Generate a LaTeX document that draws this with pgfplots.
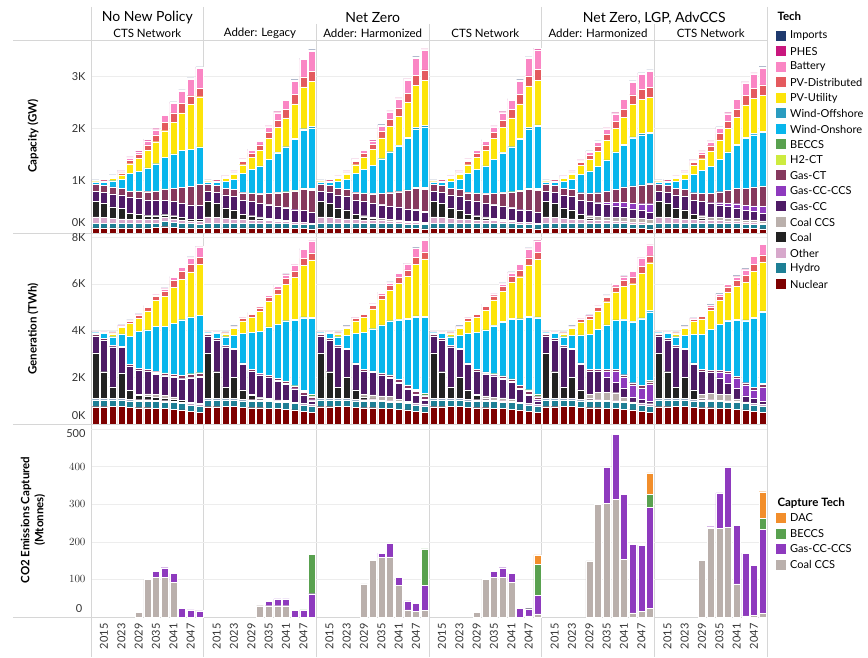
\documentclass[border=0pt]{standalone}
\usepackage{pgfplots}
\pgfplotsset{compat=1.18}
\usepackage{pgfplotstable}
\usepackage{fontspec}
\setmainfont{Lato}
\setsansfont{Lato}

\definecolor{cImp}{HTML}{1F3A6E}
\definecolor{cPHES}{HTML}{C9177E}
\definecolor{cBat}{HTML}{FA86C4}
\definecolor{cPVD}{HTML}{E45A5E}
\definecolor{cPVU}{HTML}{FDE40A}
\definecolor{cWOff}{HTML}{2A9CC0}
\definecolor{cWOn}{HTML}{08B6EC}
\definecolor{cBEC}{HTML}{59A14F}
\definecolor{cH2}{HTML}{CDEB3F}
\definecolor{cGCT}{HTML}{86395E}
\definecolor{cGCCS}{HTML}{8E3ABE}
\definecolor{cGCC}{HTML}{4E1B66}
\definecolor{cCCCS}{HTML}{BAB0AC}
\definecolor{cCoal}{HTML}{222222}
\definecolor{cOth}{HTML}{D7A8CB}
\definecolor{cHyd}{HTML}{1E7F95}
\definecolor{cNuc}{HTML}{7E0000}
\definecolor{cDAC}{HTML}{F28E2B}
\definecolor{sep}{HTML}{D6D6D6}

% columns: x Nuc Hyd Oth Coal CCCS GCC GCCS GCT H2 BEC WOn WOff PVU PVD Bat PHES Imp
\pgfplotstableread{
x Nuc Hyd Oth Coal CCCS GCC GCCS GCT H2 BEC WOn WOff PVU PVD Bat PHES Imp
0 .10 .08 .13 .29 0 .20 0 .13 0 0 .04 0 .01 .005 0 .02 .01
1 .10 .08 .12 .27 0 .21 0 .13 0 0 .06 0 .02 .01 0 .02 .01
2 .10 .08 .10 .22 0 .25 0 .13 0 0 .12 0 .05 .02 .01 .02 .01
3 .10 .08 .09 .20 0 .26 0 .12 0 0 .17 0 .09 .04 .02 .02 .01
4 .10 .08 .08 .12 0 .30 0 .12 .005 0 .33 0 .19 .07 .04 .02 .01
5 .10 .08 .08 .10 0 .30 0 .14 .005 0 .38 0 .24 .08 .05 .02 .01
6 .10 .08 .08 .07 .01 .29 0 .16 .005 0 .45 0 .33 .11 .08 .02 .01
7 .11 .08 .08 .06 .01 .28 0 .18 .005 0 .52 0 .42 .13 .10 .02 .01
8 .12 .10 .08 .05 .01 .27 0 .21 .005 0 .60 0 .51 .16 .14 .02 .01
9 .11 .09 .07 .05 .01 .27 0 .25 .005 0 .66 0 .60 .18 .18 .02 .01
10 .10 .09 .06 .05 0 .27 0 .30 .005 0 .70 0 .72 .18 .23 .02 .01
11 .10 .08 .05 .04 0 .27 0 .35 .005 0 .71 0 .85 .17 .31 .02 .01
12 .09 .08 .05 .04 0 .27 0 .40 .005 0 .71 0 .96 .16 .38 .02 .01
13 .10 .08 .13 .29 0 .20 0 .13 0 0 .04 0 .01 .005 0 .02 .01
14 .10 .08 .12 .27 0 .21 0 .13 0 0 .06 0 .02 .01 0 .02 .01
15 .10 .08 .10 .20 0 .25 0 .13 0 0 .13 0 .05 .02 .01 .02 .01
16 .10 .08 .09 .17 0 .26 0 .13 0 0 .20 0 .09 .03 .02 .02 .01
17 .10 .08 .08 .10 0 .27 0 .14 .005 0 .36 0 .17 .06 .03 .02 .01
18 .10 .08 .07 .07 .01 .27 0 .16 .005 0 .45 0 .23 .08 .05 .02 .01
19 .10 .08 .07 .04 .02 .26 0 .18 .005 0 .53 0 .30 .10 .07 .02 .01
20 .10 .08 .06 .02 .02 .26 .005 .21 .005 0 .65 0 .40 .12 .10 .02 .01
21 .10 .08 .05 .01 .02 .25 .005 .25 .01 .005 .75 .01 .48 .14 .14 .02 .01
22 .10 .08 .05 0 .01 .24 .005 .29 .01 .005 .85 .01 .55 .16 .18 .02 .01
23 .09 .08 .04 0 0 .23 .005 .35 .01 .005 .98 .02 .66 .18 .25 .02 .01
24 .09 .08 .04 0 0 .22 .005 .40 .02 .01 1.10 .03 .80 .19 .33 .02 .01
25 .08 .08 .03 0 0 .20 .005 .42 .02 .02 1.15 .03 .86 .20 .38 .02 .01
26 .10 .08 .13 .29 0 .20 0 .13 0 0 .04 0 .01 .005 0 .02 .01
27 .10 .08 .12 .27 0 .21 0 .13 0 0 .06 0 .02 .01 0 .02 .01
28 .10 .08 .10 .20 0 .25 0 .13 0 0 .13 0 .05 .02 .01 .02 .01
29 .10 .08 .09 .17 0 .26 0 .13 0 0 .20 0 .09 .03 .02 .02 .01
30 .10 .08 .08 .10 0 .27 0 .14 .005 0 .36 0 .17 .06 .03 .02 .01
31 .10 .08 .07 .06 .02 .27 0 .16 .005 0 .45 0 .23 .08 .05 .02 .01
32 .10 .08 .07 .03 .03 .26 0 .18 .005 0 .54 0 .30 .10 .07 .02 .01
33 .10 .08 .06 .01 .03 .26 .005 .21 .005 0 .66 0 .40 .12 .10 .02 .01
34 .10 .08 .05 0 .03 .25 .01 .25 .01 .005 .76 .01 .48 .14 .14 .02 .01
35 .10 .08 .05 0 .02 .24 .01 .29 .01 .005 .86 .01 .55 .16 .18 .02 .01
36 .09 .08 .04 0 .01 .23 .01 .35 .01 .005 .99 .02 .66 .18 .25 .02 .01
37 .09 .08 .04 0 .01 .22 .01 .40 .02 .01 1.11 .03 .80 .19 .33 .02 .01
38 .08 .08 .03 0 .01 .20 .01 .42 .02 .02 1.16 .03 .86 .20 .38 .02 .01
39 .10 .08 .13 .29 0 .20 0 .13 0 0 .04 0 .01 .005 0 .02 .01
40 .10 .08 .12 .27 0 .21 0 .13 0 0 .06 0 .02 .01 0 .02 .01
41 .10 .08 .10 .20 0 .25 0 .13 0 0 .13 0 .05 .02 .01 .02 .01
42 .10 .08 .09 .17 0 .26 0 .13 0 0 .20 0 .09 .03 .02 .02 .01
43 .10 .08 .08 .10 0 .27 0 .14 .005 0 .36 0 .17 .06 .03 .02 .01
44 .10 .08 .07 .07 .01 .27 0 .16 .005 0 .45 0 .23 .08 .05 .02 .01
45 .10 .08 .07 .04 .02 .26 0 .18 .005 0 .53 0 .30 .10 .07 .02 .01
46 .10 .08 .06 .02 .02 .26 .005 .21 .005 0 .65 0 .40 .12 .10 .02 .01
47 .10 .08 .05 .01 .02 .25 .005 .25 .01 .005 .75 .01 .48 .14 .14 .02 .01
48 .10 .08 .05 0 .01 .24 .005 .29 .01 .005 .85 .01 .55 .16 .18 .02 .01
49 .09 .08 .04 0 0 .23 .005 .35 .01 .005 .98 .02 .66 .18 .25 .02 .01
50 .09 .08 .04 0 0 .22 .005 .40 .02 .01 1.12 .03 .80 .19 .33 .02 .01
51 .08 .08 .03 0 0 .20 .005 .42 .02 .02 1.18 .03 .86 .20 .38 .02 .01
52 .10 .08 .13 .29 0 .20 0 .13 0 0 .04 0 .01 .005 0 .02 .01
53 .10 .08 .12 .27 0 .21 0 .13 0 0 .06 0 .02 .01 0 .02 .01
54 .10 .08 .10 .20 0 .25 0 .13 0 0 .13 0 .05 .02 .01 .02 .01
55 .10 .08 .09 .17 0 .26 0 .13 0 0 .20 0 .09 .03 .02 .02 .01
56 .10 .08 .08 .10 0 .27 0 .14 0 0 .35 0 .17 .06 .03 .02 .01
57 .10 .08 .07 .03 .05 .27 0 .16 0 0 .43 0 .22 .08 .05 .02 .01
58 .10 .08 .07 0 .07 .26 .01 .18 0 0 .50 0 .29 .10 .07 .02 .01
59 .10 .08 .06 0 .07 .24 .04 .21 0 0 .60 0 .37 .12 .10 .02 .01
60 .10 .08 .05 0 .07 .22 .07 .25 0 0 .70 .01 .45 .14 .14 .02 .01
61 .10 .08 .05 0 .07 .20 .09 .29 0 0 .80 .01 .52 .16 .18 .02 .01
62 .09 .08 .04 0 .07 .18 .11 .33 0 0 .92 .02 .62 .18 .24 .02 .01
63 .09 .08 .04 0 .07 .16 .12 .36 0 0 .95 .03 .66 .19 .28 .02 .01
64 .08 .08 .03 0 .07 .14 .16 .38 0 .01 .95 .03 .66 .20 .30 .02 .01
65 .10 .08 .13 .29 0 .20 0 .13 0 0 .04 0 .01 .005 0 .02 .01
66 .10 .08 .12 .27 0 .21 0 .13 0 0 .06 0 .02 .01 0 .02 .01
67 .10 .08 .10 .20 0 .25 0 .13 0 0 .13 0 .05 .02 .01 .02 .01
68 .10 .08 .09 .17 0 .26 0 .13 0 0 .20 0 .09 .03 .02 .02 .01
69 .10 .08 .08 .10 0 .27 0 .14 0 0 .35 0 .17 .06 .03 .02 .01
70 .10 .08 .07 .03 .05 .27 0 .16 0 0 .44 0 .22 .08 .05 .02 .01
71 .10 .08 .07 0 .06 .26 .01 .18 0 0 .52 0 .29 .10 .07 .02 .01
72 .10 .08 .06 0 .06 .24 .04 .21 0 0 .62 0 .37 .12 .10 .02 .01
73 .10 .08 .05 0 .06 .22 .06 .25 0 0 .72 .01 .45 .14 .14 .02 .01
74 .10 .08 .05 0 .05 .20 .08 .29 0 0 .83 .01 .52 .16 .18 .02 .01
75 .09 .08 .04 0 .04 .18 .10 .33 0 0 .95 .02 .62 .18 .24 .02 .01
76 .09 .08 .04 0 .04 .16 .11 .36 0 0 1.00 .03 .66 .19 .28 .02 .01
77 .08 .08 .03 0 .04 .14 .14 .38 0 .01 1.02 .03 .68 .20 .32 .02 .01
}\capdata

\pgfplotstableread{
x Nuc Hyd Oth Coal CCCS GCC GCCS GCT H2 BEC WOn WOff PVU PVD Bat PHES Imp
0 .74 .30 .06 1.95 0 .72 0 .06 0 0 .08 0 .02 .01 0 .01 .03
1 .74 .30 .06 1.14 0 1.36 0 .06 0 0 .22 0 .04 .02 0 .01 .03
2 .76 .28 .05 .50 0 1.72 0 .05 0 0 .38 0 .12 .05 0 .01 .03
3 .76 .28 .05 1.10 0 1.10 0 .05 0 0 .52 0 .27 .07 .01 .01 .03
4 .72 .28 .06 .39 0 1.04 0 .06 0 0 1.21 0 .54 .10 .02 .01 .03
5 .70 .28 .06 .20 .02 1.06 0 .07 0 0 1.57 0 .57 .12 .03 .01 .03
6 .70 .28 .06 .14 .11 .98 0 .07 0 0 1.69 0 .81 .15 .04 .01 .03
7 .68 .28 .06 .12 .12 .88 .02 .08 .005 0 1.94 0 1.10 .18 .06 .01 .03
8 .66 .28 .06 .10 .12 .84 .03 .09 .005 0 2.00 0 1.29 .23 .09 .01 .03
9 .64 .28 .06 .08 .10 .84 .03 .10 .005 0 2.19 0 1.53 .30 .12 .01 .03
10 .60 .28 .06 .08 0 .92 .03 .12 .005 0 2.37 0 1.72 .34 .18 .01 .03
11 .54 .28 .06 .05 0 1.05 .03 .13 .005 .01 2.43 0 1.93 .32 .28 .01 .03
12 .50 .28 .06 .04 0 1.12 .03 .15 .005 .01 2.47 0 2.17 .29 .45 .01 .03
13 .74 .30 .06 1.95 0 .72 0 .06 0 0 .08 0 .02 .01 0 .01 .03
14 .74 .30 .06 1.14 0 1.36 0 .06 0 0 .22 0 .04 .02 0 .01 .03
15 .76 .28 .05 .50 0 1.72 0 .05 0 0 .38 0 .12 .05 0 .01 .03
16 .76 .28 .05 .90 0 1.20 0 .05 0 0 .55 0 .30 .07 .01 .01 .03
17 .72 .28 .06 .40 0 1.10 0 .06 0 0 1.25 0 .55 .10 .02 .01 .03
18 .70 .28 .06 .20 .02 1.00 0 .07 0 0 1.60 0 .65 .12 .03 .01 .03
19 .70 .28 .06 .08 .03 .95 .01 .07 0 0 1.80 0 .85 .15 .05 .01 .03
20 .68 .28 .06 .04 .03 .90 .02 .08 .005 0 2.05 .01 1.10 .18 .07 .01 .03
21 .66 .28 .06 0 .03 .80 .03 .09 .005 0 2.30 .02 1.30 .22 .10 .01 .03
22 .64 .28 .06 0 .03 .70 .03 .10 .005 0 2.55 .03 1.55 .26 .15 .01 .03
23 .60 .28 .06 0 0 .55 .02 .12 .01 0 2.80 .04 1.80 .28 .25 .01 .03
24 .54 .28 .06 0 0 .35 .02 .12 .02 .05 3.10 .05 2.20 .30 .38 .01 .03
25 .50 .28 .06 0 0 .15 .05 .12 .02 .10 3.25 .05 2.45 .30 .50 .01 .03
26 .74 .30 .06 1.95 0 .72 0 .06 0 0 .08 0 .02 .01 0 .01 .03
27 .74 .30 .06 1.14 0 1.36 0 .06 0 0 .22 0 .04 .02 0 .01 .03
28 .76 .28 .05 .50 0 1.72 0 .05 0 0 .38 0 .12 .05 0 .01 .03
29 .76 .28 .05 .90 0 1.20 0 .05 0 0 .55 0 .30 .07 .01 .01 .03
30 .72 .28 .06 .40 0 1.10 0 .06 0 0 1.25 0 .55 .10 .02 .01 .03
31 .70 .28 .06 .12 .10 1.00 0 .07 0 0 1.60 0 .65 .12 .03 .01 .03
32 .70 .28 .06 .04 .17 .95 .01 .07 0 0 1.80 0 .85 .15 .05 .01 .03
33 .68 .28 .06 0 .18 .88 .02 .08 .005 0 2.05 .01 1.10 .18 .07 .01 .03
34 .66 .28 .06 0 .18 .78 .05 .09 .005 0 2.30 .02 1.30 .22 .10 .01 .03
35 .64 .28 .06 0 .09 .68 .05 .10 .005 0 2.55 .03 1.55 .26 .15 .01 .03
36 .60 .28 .06 0 .02 .53 .06 .12 .01 0 2.80 .04 1.80 .28 .25 .01 .03
37 .54 .28 .06 0 .02 .33 .06 .12 .02 .05 3.10 .05 2.20 .30 .38 .01 .03
38 .50 .28 .06 0 .02 .15 .07 .12 .02 .10 3.25 .05 2.45 .30 .50 .01 .03
39 .74 .30 .06 1.95 0 .72 0 .06 0 0 .08 0 .02 .01 0 .01 .03
40 .74 .30 .06 1.14 0 1.36 0 .06 0 0 .22 0 .04 .02 0 .01 .03
41 .76 .28 .05 .50 0 1.72 0 .05 0 0 .38 0 .12 .05 0 .01 .03
42 .76 .28 .05 .90 0 1.20 0 .05 0 0 .55 0 .30 .07 .01 .01 .03
43 .72 .28 .06 .40 0 1.10 0 .06 0 0 1.25 0 .55 .10 .02 .01 .03
44 .70 .28 .06 .20 .02 1.00 0 .07 0 0 1.60 0 .65 .12 .03 .01 .03
45 .70 .28 .06 .05 .11 .95 .01 .07 0 0 1.80 0 .85 .15 .05 .01 .03
46 .68 .28 .06 0 .12 .90 .03 .08 .005 0 2.05 .01 1.10 .18 .07 .01 .03
47 .66 .28 .06 0 .12 .80 .05 .09 .005 0 2.30 .02 1.30 .22 .10 .01 .03
48 .64 .28 .06 0 .10 .70 .05 .10 .005 0 2.55 .03 1.55 .26 .15 .01 .03
49 .60 .28 .06 0 0 .55 .05 .12 .01 0 2.80 .04 1.80 .28 .25 .01 .03
50 .54 .28 .06 0 .01 .35 .04 .12 .02 .05 3.10 .05 2.20 .30 .38 .01 .03
51 .50 .28 .06 0 .01 .15 .05 .12 .02 .10 3.25 .05 2.45 .30 .50 .01 .03
52 .74 .30 .06 1.95 0 .72 0 .06 0 0 .08 0 .02 .01 0 .01 .03
53 .74 .30 .06 1.14 0 1.36 0 .06 0 0 .22 0 .04 .02 0 .01 .03
54 .76 .28 .05 .50 0 1.72 0 .05 0 0 .38 0 .12 .05 0 .01 .03
55 .76 .28 .05 .90 0 1.20 0 .05 0 0 .55 0 .30 .07 .01 .01 .03
56 .72 .28 .06 .40 0 1.10 0 .06 0 0 1.20 0 .55 .10 .02 .01 .03
57 .70 .28 .06 .05 .17 1.00 0 .07 0 0 1.50 0 .65 .12 .03 .01 .03
58 .70 .28 .06 0 .33 .90 .01 .07 0 0 1.70 0 .80 .15 .05 .01 .03
59 .68 .28 .06 0 .33 .65 .25 .08 0 0 1.90 .01 1.00 .18 .07 .01 .03
60 .66 .28 .06 0 .34 .45 .46 .09 0 0 2.10 .02 1.20 .22 .10 .01 .03
61 .64 .28 .06 0 .17 .40 .46 .10 0 0 2.35 .03 1.40 .26 .15 .01 .03
62 .60 .28 .06 0 .01 .20 .50 .12 0 0 2.60 .04 1.60 .28 .25 .01 .03
63 .54 .28 .06 0 .02 .15 .48 .12 0 0 2.85 .05 1.90 .30 .35 .01 .03
64 .50 .28 .06 0 .03 .10 .72 .12 0 .05 2.95 .05 2.05 .30 .45 .01 .03
65 .74 .30 .06 1.95 0 .72 0 .06 0 0 .08 0 .02 .01 0 .01 .03
66 .74 .30 .06 1.14 0 1.36 0 .06 0 0 .22 0 .04 .02 0 .01 .03
67 .76 .28 .05 .50 0 1.72 0 .05 0 0 .38 0 .12 .05 0 .01 .03
68 .76 .28 .05 .90 0 1.20 0 .05 0 0 .55 0 .30 .07 .01 .01 .03
69 .72 .28 .06 .40 0 1.10 0 .06 0 0 1.22 0 .55 .10 .02 .01 .03
70 .70 .28 .06 .05 .17 1.00 0 .07 0 0 1.52 0 .65 .12 .03 .01 .03
71 .70 .28 .06 0 .26 .92 .01 .07 0 0 1.75 0 .82 .15 .05 .01 .03
72 .68 .28 .06 0 .26 .70 .25 .08 0 0 1.95 .01 1.02 .18 .07 .01 .03
73 .66 .28 .06 0 .26 .50 .42 .09 0 0 2.15 .02 1.22 .22 .10 .01 .03
74 .64 .28 .06 0 .10 .45 .42 .10 0 0 2.40 .03 1.42 .26 .15 .01 .03
75 .60 .28 .06 0 .01 .25 .45 .12 0 0 2.65 .04 1.62 .28 .25 .01 .03
76 .54 .28 .06 0 .01 .20 .37 .12 0 0 2.95 .05 1.95 .30 .35 .01 .03
77 .50 .28 .06 0 .01 .12 .60 .12 0 .05 3.05 .05 2.10 .30 .45 .01 .03
}\gendata

\pgfplotstableread{
x CCS GCCS BEC DAC
0 0 0 0 0
1 0 0 0 0
2 0 0 0 0
3 0 0 0 0
4 0 0 0 0
5 13 0 0 0
6 100 0 0 0
7 106 15 0 0
8 106 25 0 0
9 93 23 0 0
10 0 23 0 0
11 0 19 2 0
12 0 16 2 0
13 0 0 0 0
14 0 0 0 0
15 0 0 0 0
16 0 0 0 0
17 0 0 0 0
18 0 0 0 0
19 30 0 0 0
20 30 12 0 0
21 30 18 0 0
22 30 18 0 0
23 0 17 0 0
24 0 17 2 0
25 0 62 104 0
26 0 0 0 0
27 0 0 0 0
28 0 0 0 0
29 0 0 0 0
30 0 0 0 0
31 88 0 0 0
32 150 0 0 0
33 158 12 0 0
34 160 36 0 0
35 84 22 0 0
36 19 24 0 0
37 15 22 2 0
38 17 67 97 0
39 0 0 0 0
40 0 0 0 0
41 0 0 0 0
42 0 0 0 0
43 0 0 0 0
44 13 0 0 0
45 100 0 0 0
46 106 15 0 0
47 106 25 0 0
48 93 23 0 0
49 0 23 0 0
50 3 19 3 0
51 8 49 83 25
52 0 0 0 0
53 0 0 0 0
54 0 0 0 0
55 0 0 0 0
56 0 0 0 0
57 149 0 0 0
58 299 4 0 0
59 303 95 0 0
60 313 172 0 0
61 154 172 0 0
62 11 182 0 0
63 15 176 0 0
64 23 269 34 57
65 0 0 0 0
66 0 0 0 0
67 0 0 0 0
68 0 0 0 0
69 0 0 0 0
70 150 0 0 0
71 236 4 0 0
72 235 95 0 0
73 238 160 0 0
74 88 155 0 0
75 3 167 0 0
76 5 132 0 0
77 10 223 29 71
}\cotwo

\pgfplotsset{
  rowaxis/.style={
    width=676pt, scale only axis,
    xmin=-0.5, xmax=77.5, ymin=0,
    ybar stacked, bar width=0.8,
    axis line style={draw=sep},
    ymajorgrids, grid style={draw=black!7},
    xtick=\empty,
    major tick length=0pt,
    yticklabel style={font=\fontsize{11}{12}\selectfont, text=black!80, xshift=-2pt},
    every axis plot/.append style={draw=white, line width=0.3pt},
    clip=false,
  },
}

\newcommand{\techplots}[1]{%
  \addplot[fill=cNuc] table[x=x,y=Nuc]{#1};
  \addplot[fill=cHyd] table[x=x,y=Hyd]{#1};
  \addplot[fill=cOth] table[x=x,y=Oth]{#1};
  \addplot[fill=cCoal] table[x=x,y=Coal]{#1};
  \addplot[fill=cCCCS] table[x=x,y=CCCS]{#1};
  \addplot[fill=cGCC] table[x=x,y=GCC]{#1};
  \addplot[fill=cGCCS] table[x=x,y=GCCS]{#1};
  \addplot[fill=cGCT] table[x=x,y=GCT]{#1};
  \addplot[fill=cH2] table[x=x,y=H2]{#1};
  \addplot[fill=cBEC] table[x=x,y=BEC]{#1};
  \addplot[fill=cWOn] table[x=x,y=WOn]{#1};
  \addplot[fill=cWOff] table[x=x,y=WOff]{#1};
  \addplot[fill=cPVU] table[x=x,y=PVU]{#1};
  \addplot[fill=cPVD] table[x=x,y=PVD]{#1};
  \addplot[fill=cBat] table[x=x,y=Bat]{#1};
  \addplot[fill=cPHES] table[x=x,y=PHES]{#1};
  \addplot[fill=cImp] table[x=x,y=Imp]{#1};
}

\begin{document}
\begin{tikzpicture}[x=1pt,y=1pt]
\path[use as bounding box] (0,0) rectangle (868,657);

% separators through header & labels
\foreach \xx in {203.67,541.67} \draw[sep] (\xx,650) -- (\xx,0);
\foreach \xx in {316.33,429,654.33} \draw[sep] (\xx,633) -- (\xx,0);
\draw[sep] (91,650) -- (91,0);
\draw[sep] (767,650) -- (767,0);
\foreach \yy in {617,424,233,40} \draw[sep] (13,\yy) -- (767,\yy);

% headers
\node[font=\fontsize{14}{16}\selectfont] at (147.3,639) {No New Policy};
\node[font=\fontsize{14}{16}\selectfont] at (372.7,639) {Net Zero};
\node[font=\fontsize{14}{16}\selectfont] at (654.3,639) {Net Zero, LGP, AdvCCS};
\node[font=\fontsize{11.5}{13}\selectfont] at (147.3,623.5) {CTS Network};
\node[font=\fontsize{11.5}{13}\selectfont] at (260,623.5) {Adder: Legacy};
\node[font=\fontsize{11.5}{13}\selectfont] at (372.7,623.5) {Adder: Harmonized};
\node[font=\fontsize{11.5}{13}\selectfont] at (485.3,623.5) {CTS Network};
\node[font=\fontsize{11.5}{13}\selectfont] at (598,623.5) {Adder: Harmonized};
\node[font=\fontsize{11.5}{13}\selectfont] at (710.7,623.5) {CTS Network};

% axis titles
\node[rotate=90, font=\bfseries\fontsize{11.5}{13}\selectfont] at (33,521) {Capacity (GW)};
\node[rotate=90, font=\bfseries\fontsize{11.5}{13}\selectfont] at (33,328) {Generation (TWh)};
\node[rotate=90, font=\bfseries\fontsize{11.5}{14}\selectfont, align=center] at (33,137) {CO2 Emissions Captured\\(Mtonnes)};

% Row 1: capacity
\begin{axis}[rowaxis, at={(91pt,424pt)}, anchor=south west, height=193pt,
  ymax=3.69, ytick={1,2,3}, yticklabels={1K,2K,3K},
  extra y ticks={0}, extra y tick labels={0K},
  extra y tick style={yticklabel style={yshift=10pt}}]
\techplots{\capdata}
\end{axis}

% Row 2: generation
\begin{axis}[rowaxis, at={(91pt,233pt)}, anchor=south west, height=191pt,
  ymax=8.18, ytick={2,4,6,8}, yticklabels={2K,4K,6K,8K},
  extra y ticks={0}, extra y tick labels={0K},
  extra y tick style={yticklabel style={yshift=8pt}}]
\techplots{\gendata}
\end{axis}

% Row 3: CO2 captured
\begin{axis}[rowaxis, at={(91pt,40pt)}, anchor=south west, height=193pt,
  ymax=513, ytick={100,200,300,400}, 
  extra y ticks={500}, extra y tick labels={500},
  extra y tick style={yticklabel style={yshift=-5pt}},
  xtick={1,3,5,7,9,11,14,16,18,20,22,24,27,29,31,33,35,37,40,42,44,46,48,50,53,55,57,59,61,63,66,68,70,72,74,76},
  xticklabels={2015,2023,2029,2035,2041,2047,2015,2023,2029,2035,2041,2047,2015,2023,2029,2035,2041,2047,2015,2023,2029,2035,2041,2047,2015,2023,2029,2035,2041,2047,2015,2023,2029,2035,2041,2047},
  xticklabel style={rotate=90, anchor=east, font=\fontsize{11}{12}\selectfont, text=black!80, yshift=0pt, xshift=-3pt}]
\addplot[fill=cCCCS] table[x=x,y=CCS]{\cotwo};
\addplot[fill=cGCCS] table[x=x,y=GCCS]{\cotwo};
\addplot[fill=cBEC] table[x=x,y=BEC]{\cotwo};
\addplot[fill=cDAC] table[x=x,y=DAC]{\cotwo};
\node[anchor=east, font=\fontsize{11}{12}\selectfont, text=black!80] at ([xshift=-5.3pt, yshift=8.5pt]rel axis cs:0,0) {0};
\end{axis}

% Legend: Tech
\node[anchor=west, font=\bfseries\fontsize{11.5}{13}\selectfont] at (774,641) {Tech};
\foreach \nm/\cc [count=\k from 0] in {Imports/cImp,PHES/cPHES,Battery/cBat,PV-Distributed/cPVD,PV-Utility/cPVU,Wind-Offshore/cWOff,Wind-Onshore/cWOn,BECCS/cBEC,H2-CT/cH2,Gas-CT/cGCT,Gas-CC-CCS/cGCCS,Gas-CC/cGCC,Coal CCS/cCCCS,Coal/cCoal,Other/cOth,Hydro/cHyd,Nuclear/cNuc}{
  \pgfmathsetmacro{\yy}{621-15.5*\k}
  \fill[\cc] (776,\yy-5) rectangle (786,\yy+5);
  \node[anchor=west, font=\fontsize{11}{12}\selectfont, inner sep=0pt] at (790,\yy) {\nm};
}
% Legend: Capture Tech
\node[anchor=west, font=\bfseries\fontsize{11.5}{13}\selectfont] at (774,154) {Capture Tech};
\foreach \nm/\cc [count=\k from 0] in {DAC/cDAC,BECCS/cBEC,Gas-CC-CCS/cGCCS,Coal CCS/cCCCS}{
  \pgfmathsetmacro{\yy}{139-15.5*\k}
  \fill[\cc] (776,\yy-5) rectangle (786,\yy+5);
  \node[anchor=west, font=\fontsize{11}{12}\selectfont, inner sep=0pt] at (790,\yy) {\nm};
}
\end{tikzpicture}
\end{document}
